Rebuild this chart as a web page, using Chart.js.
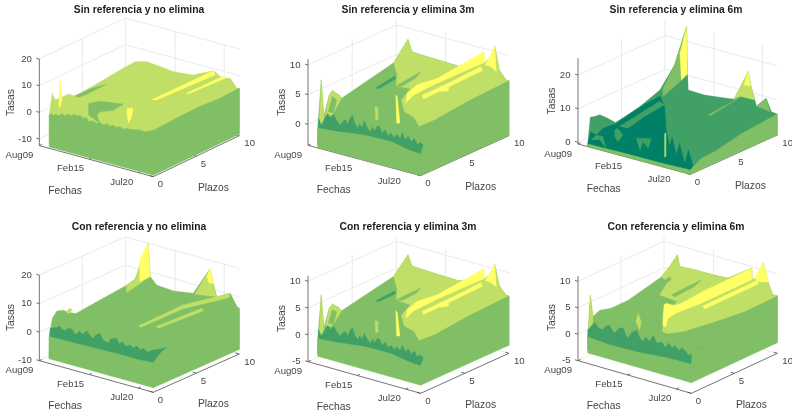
<!DOCTYPE html>
<html><head><meta charset="utf-8">
<script src="https://cdn.jsdelivr.net/npm/chart.js@4"></script>
<style>html,body{margin:0;padding:0;background:#fff;width:792px;height:411px;overflow:hidden}
canvas{position:absolute;filter:blur(.35px)}</style></head><body>
<script>
// ---------- shared axis data (dates in months since Aug 2009) ----------
const dateTicks=[0,66,131];
const dateLabels=['Aug09','Feb15','Jul20'];
const plazoTicks=[0,5,10];
const titles=['Sin referencia y no elimina','Sin referencia y elimina 3m','Sin referencia y elimina 6m','Con referencia y no elimina','Con referencia y elimina 3m','Con referencia y elimina 6m'];
const rateTicks=[[-10,0,10,20],[0,5,10],[0,10,20],[-10,0,10,20],[-5,0,5,10],[-5,0,5,10]];
// ---------- surface patches: flat triples (month, plazo, rate) ----------
const p1Bands=[3,2,2,3,4,4,4,4];
const p1Patches=[
[13,0,0,13,.37,7.5,13,.68,4.6,13,1.65,4.4,13,2.2,4.5,13,3,2.5,13,4.95,3,13,6.7,3.6,13,8.6,4.3,13,10,4.6,28,10,5.8,46,10,5.3,64,10,4.8,90,10,5.5,117,10,9.3,128,10,7.3,139,10,8.1,148,10,5,151,10,4.9,151,0,-10,13,0,-10],
[13,3,2.5,13,4.95,2.4,13,6.7,1.25,13.2,5.7,1.25,12.8,4.2,1,13,3.4,1.4],
[31,3,1.1,46,3,3.1,77,3,4.4,64,3,1.1,46,3,-.9,42,3,-2.4,46,3,-5.25,31,3,-3.25],
[44,3,-2.2,64,3,.5,73,3,1.25,62,3,-2.75,51,3,-3.6,46,3,-5.25],
[82,3,3.25,90,3,3.75,88,3,.5,84,3,-2.25,82,3,.75],
[117,2.8,9.4,117,10,9.3,120,9.9,8,120,3.1,9.1],
[130,5.7,8.4,130,10,8.25,132,10,7.5,132,5.7,8.25],
[13,1.1,1.4,13,1.26,11.5,13,1.53,4.5,13,1.34,1]];
const p1Front=[13,0,16,.8,19,.2,22,1.1,26,.6,30,1.8,34,1.2,38,2.4,42,1.9,46,2.8,50,2.4,54,3.1,58,2.2,62,2.9,66,1.5,70,2.2,76,1.7,80,2.4,85,1.8,90,2.6,94,2,98,2.8,102,2.2,106,2.9,111,2.3,116,2.9,121,3,126,3.2,133,3.6,140,3.4,146,4.2,151,4.8];
const p1Right=[0,4.8,.8,5,2.7,5.3,5.4,5.5,7.75,5,10,5.4];

const p2Bands=[2,3,1,2,4,4,4,4,1,4,3,3,2,3];
const p2Patches=[
[13,0,-.2,13,.4,7.66,13,.7,1.3,13,1.3,4.5,13,1.66,5,13,2.4,3.8,13,2.7,3,13,8.6,5,15.6,10,8.1,21,10,6.2,33,10,6.1,55,10,6,84,10,5.9,117.5,10,7.6,126,10,8.7,132,10,10.8,138,10,7.1,147,10,5.7,151,10,5.7,151,0,-3,13,0,-3],
[13,8.6,5,15.6,10,8.1,21,10,6.2,33,10,6.1,55,10,6,84,10,5.9,117.5,10,7.6,126,10,8.7,132,10,10.8,138,10,7.1,147,10,5.7,151,10,5.7,151,5.66,5.4,151,1.9,4.8,140,.75,3.9,120,1.85,4,110,1.6,4.8,105,1.7,6.5,110,2.3,8.2,60,4.9,5.2,60.5,5,7],
[31.5,5,3.8,57,5,6.7,58,5,6.2,36,5,3.9],
[58,5,5,72,5,6.5,92,5,8.6,85,5,7.3,67,5,5.3],
[117,1.36,8.3,117,2.5,9,117,4.75,8.5,117.5,10,9.5,117.5,10,7.6,117,4.75,7.7,117,3.25,7.6,117,2.1,7.5,117,1.2,6.8],
[125,2.4,7.5,125,5.6,7.6,125,9,7.9,125,9.2,7.1,125,5.6,6.9,125,2.5,6.8],
[125,4.45,7,125,5.4,6.8,125,5.3,6.3,125,4.5,6.7],
[119,10,7.3,132,10,10.8,134,10,6.7,126,10,7.3],
[13,.1,1.4,13,.4,.06,17,.8,1.9,20,.8,1.2,25,.8,2,29,.8,1.1,34,.8,.46,37,.8,1.2,41,.8,1.6,44,.8,.9,47,.8,2.1,50,.8,2.7,53,.8,1.5,57,.8,.7,60,.8,1.6,63,.8,1,66,.8,2.3,70,.8,1.3,74,.8,.7,77,.8,1.6,80,.8,1,83,.8,1.9,86,.8,2.1,90,.8,1,94,.8,1.7,98,.8,.9,102,.8,1.4,106,.8,.8,110,.8,1.5,114,.8,.9,117,.8,2,121,.8,1,125,.8,1.7,129,.8,.9,133,.8,1.6,137,.8,.7,141,.8,1.2,145,.8,.8,148,.8,1.6,151,.85,2.6,151,0,-3,13,0,-3],
[100,1.5,7.3,102,1.5,7,105.5,1.5,2.8,101,1.5,2.6],
[72,1.5,4.3,75,1.5,4.4,76,1.5,2.3,73,1.5,2.2],
[13,.9,1.4,13,1.3,4.5,13,1.66,5,13,2.4,3.8,13,2.7,3,13,1.66,.9],
[13,1.2,1.8,13,1.66,4,13,2.15,3.1,13,1.77,1.1],
[13,.15,-.3,13,.4,7.66,13,.7,1.3,13,.65,-.7]];
const p2Order=[0,1,2,3,4,5,6,7,11,12,13,8,9,10];
const p2Front=[13,-.2,39,.1,75,.75,111,.85,138,.2,151,.1];
const p2Right=[0,.1,.57,2.36,1.13,3.66,1.9,4.8,5.66,5.4,10,5.7];

const p3Bands=[1,0,1,1,1,1,1,3,4,2,3,4,2,2];
const p3Patches=[
[13,0,0,13,.3,7.9,13,.8,7.5,13,1.4,7.3,13,2.3,5.2,13,3.2,2.9,13,5.8,4.15,13,8.3,6.6,13,10,12.1,29,10,24.4,30,10,10.1,31,10,5.7,53,10,5.5,85,10,6.4,94,10,6.7,112,10,16,116,10,11.5,123,10,6.4,136,10,9.5,143,10,5.9,151,10,5.7,151,0,-.4,13,0,-.4],
[13,0,.3,13,.35,3.5,13,1,1.8,13,1.76,2.9,13,3.2,2.5,13,5.8,4.15,13,8.3,4.8,13,8.85,1.1,60,5,1.4,100,2,2.3,103,2,5.4,109,2,.4,113,2,4.1,120,2,-1.5,125,2,2.8,151,.3,1.9,151,0,.8,13,0,-.4],
[21,3,2.5,16,8,3.8,17,8.5,2.2,31,5,3.7,32,3,2.6],
[26,2,2.9,30,2,3.6,37,2,2,30,2,-.4,25,2,1.3],
[13,.42,1,13,1,1.8,13,1.76,.4,32,.5,-.5,13,1.4,-.1],
[55,2,2.1,75,2,3.3,71,2,.1,64,2,1.7,60,2,-1.1],
[13,8.5,4,13,10,7.6,30,10,10.1,31,10,5.7,13,9,2.9],
[93,2,5.8,94.5,2,6,94.5,2,-.9,93,2,-1.2],
[20,10,15.9,29,10,24.4,30,10,10.4,22,10,8.1],
[13,8.65,6.7,13,10,12.1,29,10,24.4,30,10,10.1,20,10,7.5,13,8.65,4.25],
[92,10,6.6,112,10,16,116,10,11.5,121,10,8.1,102,10,8],
[106,10,11.7,112,10,16,115,10,11.9],
[100,6.4,6.6,100,9.5,7.4,100,9.85,7.5,100,6.8,6.1],
[123,10,6.4,136,10,9.5,141,10,5.8,128,10,6.3]];
const p3Order=[0,1,2,3,4,5,6,7,9,8,10,11,12,13];
const p3Front=[13,.3,67,.5,110,.5,151,.8];
const p3Right=[0,.8,1.26,2.8,2.8,3,5.9,4.7,6.6,4.9,10,5.7];

const p4Bands=[2,3,4,3,4,3,3,3,1];
const p4Patches=[
[13,0,-.6,13,.37,5.3,13,.9,7.2,13,1.65,6.4,13,2.2,5,13,3.1,3.3,13,5.9,4.3,13,9,5.3,13,10,6.1,30,10,20,33,10,8.5,41.5,10,6.1,64,10,5.7,90,10,6.8,112,10,17,116.5,10,12.2,121,10,7.9,139,10,10.4,148,10,6.4,151,10,6,151,0,-8,13,0,-8],
[13,9,2.7,13,9,5.3,13,10,6.1,30,10,20,33,10,8.5],
[19,10,13.3,30,10,20,33,10,8.5,19,10,5.7],
[92,10,6.6,112,10,17,116.5,10,12.2,121,10,7.9],
[108,10,14,112,10,17,116.5,10,12.2,111,10,11.9],
[126,.5,10.8,130,5.3,12,139,10,10.4,137,10,8.7,130,5.3,10.6,126,.7,10],
[138,1.5,10.1,138,6.76,9.4,138,7,8.2,138,1.7,9.2],
[13,2,5.4,13,2.4,6.2,13,2.7,5,13,2.2,4.4],
[13,.1,2.2,14,.8,1.6,18,.8,2.4,21,.8,1.5,25,.8,1.2,29,.8,2.4,34,.8,2.5,37,.8,1.3,40,.8,1.1,44,.8,2.6,48,.8,1.7,54,.8,3.3,58,.8,2,62,.8,1.3,66,.8,2.8,71,.8,3.8,75,.8,1.7,82,.8,1.1,85,.8,2.7,93,.8,3.7,97,.8,1.9,101,.8,3,105,.8,1.7,111,.8,2.6,115,.8,1.8,120,.8,2.9,125,.8,1.9,129,.8,2.7,134,.8,1.8,140,.8,2.9,146,.8,3.5,151,1.55,3.6,151,0,-8,13,0,-8]];
const p4Front=[13,-.6,58,-.3,102,0,133,0,151,.4];
const p4Right=[0,.4,.8,2.6,1.55,3.6,5.4,5.2,10,6];

const p6Bands=[2,3,2,2,4,4,4,3,3,1];
const p6Patches=[
[13,0,0,13,.3,7.7,13,.6,3.4,13,1.4,4,13,2.7,3.4,13,4.7,3.4,13,8.55,4.9,13,9.5,6.1,18,10,8.2,21,10,6.1,41,10,6.3,59,10,6.3,85,10,6.5,116,10,9.6,117,10,7.5,125,10,8.4,132,10,11.3,138.5,10,8,145,10,5.8,151,10,5.9,151,0,-2.5,13,0,-2.5],
[13,8.55,4.9,13,9.5,6.1,18,10,8.2,21,10,6.1,41,10,6.3,59,10,6.3,85,10,6.5,116,10,9.6,117,10,7.5,125,10,8.4,132,10,11.3,138.5,10,8,145,10,5.8,151,10,5.9,151,6.2,5.8,151,2.7,6.5,131,1,5.2,97,2,2.6,90,2,2.6,79,3,5.2,76,5,5.5,40,6,4.5,28,8,5],
[17.5,7,3.8,42,7,7.3,44,7,6.8,24,7,4],
[44,7,3.9,66,7,6.4,84,7,8.4,75,7,6.8,49,7,3.8],
[105,.83,9.2,105,1.1,9.3,105,2.07,8.1,110,2.4,8.5,115,4.3,9.4,116,10,9.6,117,10,7.5,115,4.3,7.3,105,2.2,6.6,105,1.3,6.3,105,1,4.8,105,.7,5.5],
[125,3.6,7.7,125,10,7.8,125,10,7,125,3.8,7],
[120,10,7.9,132,10,11.3,139.5,10,8,127.5,10,7.5],
[60,1.5,3.7,63,1.5,5.4,67,1.5,3.9,65,1.5,2.3],
[13,.1,.9,13,.3,7.7,13,.6,3.4,13,.5,.6],
[13,0,1.3,13,.8,2.2,18,.8,1.3,24,.8,1.2,28,.8,2.1,33,.8,2.4,37,.8,1.5,40,.8,1.2,45,.8,2.3,51,.8,2.7,54,.8,1.6,57,.8,.9,62,.8,2.2,69,.8,3,73,.8,1.7,77,.8,1.1,81,.8,2.2,86,.8,1.5,91,.8,2.9,96,.8,1.6,102,.8,2.1,107,.8,1.3,112,.8,2.3,116,.8,1.5,120,.8,2.2,125,.8,1.4,129,.8,2.1,133,.8,1.8,138,.8,1.1,144,.8,1.6,151,.1,2.8,151,1.55,2.9,151,0,-2.5,13,0,-2.5]];
const p6Front=[13,0,44,-.3,80,-.15,120,.4,151,.5];
const p6Right=[0,.5,.1,2.8,1.55,2.9,5,3.2,10,5.9];

// ---------- view / style configuration ----------
const bandColors=['#008066','#40A066','#80BF66','#BFDF66','#FFFF66'];
const wallBand=2, monthEnd=151, monthStart=13;
const FW=270,TH=20.4;
const views=[
{col:0,  row:0,  fl:4,  ft:0,  ox:118,oy:437,a:2.265,ay:.616,b:25.8,by:12.3,e:8,    zmin:-12.5,zmax:20,base:-12,tx:-28.3},
{col:264,row:0,  fl:273,ft:0,  ox:132,oy:436,a:2.238,ay:.603,b:26.5,by:12,  e:17.8, zmin:-3.54,zmax:11,base:-3.5,tx:-26},
{col:528,row:0,  fl:541,ft:0,  ox:150,oy:432,a:2.232,ay:.603,b:26.1,by:11.8,e:10.1, zmin:-.5,  zmax:25,base:-.5,tx:-26},
{col:0,  row:205,fl:4,  ft:217,ox:118,oy:467,a:2.265,ay:.629,b:25.8,by:11.5,e:8.55, zmin:-10,  zmax:20,base:-8.4,tx:-28.3},
{col:264,row:205,fl:273,ft:217,ox:132,oy:470,a:2.238,ay:.629,b:26.5,by:12,  e:16.08,zmin:-5,   zmax:11,base:-3.5,tx:-26},
{col:528,row:205,fl:541,ft:217,ox:150,oy:467,a:2.252,ay:.649,b:25.8,by:12,  e:15.87,zmin:-5,   zmax:11,base:-3,tx:-26}];
const idx=a=>a.map((_,i)=>i);
const panels=[
{b:p1Bands,s:p1Patches,o:idx(p1Bands),f:p1Front,r:p1Right},
{b:p2Bands,s:p2Patches,o:p2Order,f:p2Front,r:p2Right},
{b:p3Bands,s:p3Patches,o:p3Order,f:p3Front,r:p3Right},
{b:p4Bands,s:p4Patches,o:idx(p4Bands),f:p4Front,r:p4Right},
{b:p2Bands,s:p2Patches,o:p2Order,f:p2Front,r:p2Right},
{b:p6Bands,s:p6Patches,o:idx(p6Bands),f:p6Front,r:p6Right}];

function projector(v){return (t,p,z)=>({
  x:v.col-v.fl+(v.ox+v.a*t+v.b*p)/3,
  y:v.row-v.ft+(v.oy+v.ay*t-v.by*p-v.e*(z-v.zmin))/3});}
function triples(f,P){const o=[];for(let i=0;i<f.length;i+=3)o.push(P(f[i],f[i+1],f[i+2]));return o;}
function polyDs(pts,color){return {data:pts.concat([pts[0]]),showLine:true,fill:'shape',backgroundColor:color,borderColor:color,borderWidth:.4,pointRadius:0,tension:0,clip:false};}
function lineDs(pts,color,w){return {data:pts,showLine:true,fill:false,borderColor:color,borderWidth:w,pointRadius:0,tension:0,clip:false};}

function labelPlugin(P,v,i){return {id:'axisText',afterDatasetsDraw(c){
  const x=c.ctx;
  x.save();x.fillStyle='#454545';x.textBaseline='middle';x.font='9.6px "Liberation Sans"';
  x.textAlign='right';
  rateTicks[i].forEach(z=>{const q=P(0,0,z);x.fillText(String(z),q.x-7.5,q.y);});
  dateTicks.forEach((t,k)=>{const q=P(t,0,v.zmin);x.fillText(dateLabels[k],q.x-(k?5:6),q.y+(k?9.5:10));});
  x.textAlign='left';
  plazoTicks.forEach(p=>{const q=P(monthEnd,p,v.zmin);x.fillText(String(p),q.x+(p==10?5:4.5),q.y+8);});
  x.font='10.3px "Liberation Sans"';x.textAlign='center';
  const O=P(0,0,v.zmin),C=P(monthEnd,0,v.zmin);
  x.fillText('Fechas',O.x+25.7,O.y+45);
  x.fillText('Plazos',C.x+60,C.y+11.5);
  x.translate(O.x+v.tx,O.y-43);x.rotate(-Math.PI/2);x.fillText('Tasas',0,0);
  x.restore();
}};}

views.forEach((v,i)=>{
  const P=projector(v),pan=panels[i],ds=[];
  const T0=0,grid='#e4e4e4',axis='#505050';
  rateTicks[i].forEach(z=>{ds.push(lineDs([P(T0,0,z),P(T0,10,z),P(monthEnd,10,z)],grid,.8));});
  [[T0,5],[T0,10],[66,10],[131,10]].forEach(g=>{ds.push(lineDs([P(g[0],g[1],v.zmin),P(g[0],g[1],v.zmax)],grid,.8));});
  ds.push(lineDs([P(T0,0,v.zmin),P(T0,0,v.zmax)],axis,.8));
  ds.push(lineDs([P(T0,0,v.zmin),P(monthEnd,0,v.zmin),P(monthEnd,10,v.zmin)],axis,.8));
  rateTicks[i].forEach(z=>{ds.push(lineDs([P(T0,0,z),P(T0-4,0,z)],axis,.8));});
  dateTicks.forEach(t=>{ds.push(lineDs([P(t,0,v.zmin),P(t,.3,v.zmin)],axis,.8));});
  plazoTicks.forEach(p=>{ds.push(lineDs([P(monthEnd,p,v.zmin),P(monthEnd-5,p,v.zmin)],axis,.8));});
  pan.o.forEach(k=>{ds.push(polyDs(triples(pan.s[k],P),bandColors[pan.b[k]]));});
  const rt=[];for(let k=0;k<pan.r.length;k+=2)rt.push(P(monthEnd,pan.r[k],pan.r[k+1]));
  ds.push(polyDs(rt.concat([P(monthEnd,10,v.base),P(monthEnd,0,v.base)]),bandColors[wallBand]));
  const ft=[];for(let k=0;k<pan.f.length;k+=2)ft.push(P(pan.f[k],0,pan.f[k+1]));
  ds.push(polyDs(ft.concat([P(monthEnd,0,v.base),P(monthStart,0,v.base)]),bandColors[wallBand]));
  ds.forEach((d,k)=>{d.order=ds.length-k;});
  const H=v.ft?194:205;
  const cv=document.createElement('canvas');
  cv.width=FW;cv.height=H;cv.style.width=FW+'px';cv.style.height=H+'px';cv.style.left=v.fl+'px';cv.style.top=v.ft+'px';
  document.body.appendChild(cv);
  new Chart(cv,{type:'scatter',data:{datasets:ds},plugins:[labelPlugin(P,v,i)],options:{
    responsive:false,animation:false,devicePixelRatio:1,layout:{padding:0},
    scales:{x:{type:'linear',display:false,min:0,max:FW},y:{type:'linear',display:false,reverse:true,min:TH,max:H}},
    plugins:{legend:{display:false},tooltip:{enabled:false},
      title:{display:true,text:titles[i],color:'#1c1c1c',font:{family:'"Liberation Sans"',size:10.3,weight:'bold',lineHeight:1.2},padding:{top:4,bottom:4}}}}});
});
</script></body></html>
